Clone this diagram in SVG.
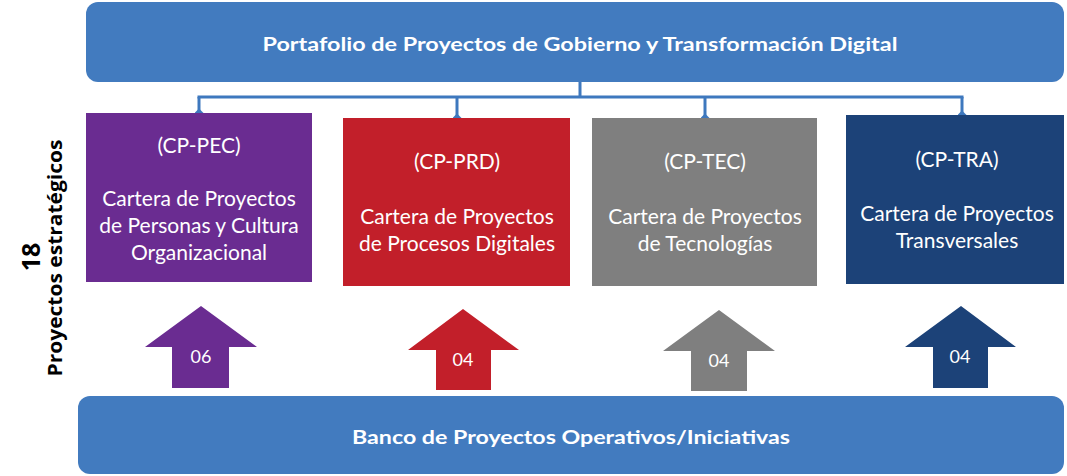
<svg xmlns="http://www.w3.org/2000/svg" width="1067" height="476" viewBox="0 0 1067 476">
  <style>
    .band { fill: #427BBF; }
    .title { font-family: Lato, "Open Sans", sans-serif; font-weight: bold; font-size: 19.5px; fill: #ffffff; text-anchor: middle; }
    .lbl { font-family: Lato, "Open Sans", sans-serif; font-size: 21px; fill: #ffffff; text-anchor: middle; }
    .num { font-family: Lato, "Open Sans", sans-serif; font-size: 18px; fill: #ffffff; text-anchor: middle; }
    .side { font-family: "Open Sans", Lato, sans-serif; font-weight: bold; fill: #000000; text-anchor: middle; }
    .conn { fill: none; stroke: #3E78BE; stroke-width: 3; }
    .purple { fill: #6A2C91; }
    .red { fill: #C21F2A; }
    .gray { fill: #7F7F7F; }
    .navy { fill: #1C4278; }
  </style>
  <defs>
    <marker id="dia" viewBox="0 0 10 10" refX="5" refY="5" markerWidth="3" markerHeight="3" orient="auto">
      <path d="M0,5 L5,0 L10,5 L5,10 Z" fill="#3E78BE"/>
    </marker>
  </defs>

  <g id="portafolio">
    <rect class="band" x="86" y="2" width="978" height="80" rx="12"/>
    <text class="title" x="580" y="51" textLength="635" lengthAdjust="spacingAndGlyphs">Portafolio de Proyectos de Gobierno y Transformación Digital</text>
  </g>

  <g id="connectors">
    <path class="conn" d="M580,82 V97 M197.5,97 H963.5"/>
    <path class="conn" d="M199,97 V113" marker-end="url(#dia)"/>
    <path class="conn" d="M457,97 V118" marker-end="url(#dia)"/>
    <path class="conn" d="M705,97 V118" marker-end="url(#dia)"/>
    <path class="conn" d="M962,97 V115" marker-end="url(#dia)"/>
  </g>

  <g id="cp-pec">
    <rect class="purple" x="86" y="113" width="226" height="169"/>
    <text class="lbl" x="199" y="153">(CP-PEC)</text>
    <text class="lbl" x="199" y="206">Cartera de Proyectos</text>
    <text class="lbl" x="199" y="233">de Personas y Cultura</text>
    <text class="lbl" x="199" y="260">Organizacional</text>
  </g>

  <g id="cp-prd">
    <rect class="red" x="343" y="118" width="227" height="168"/>
    <text class="lbl" x="457" y="169">(CP-PRD)</text>
    <text class="lbl" x="457" y="224">Cartera de Proyectos</text>
    <text class="lbl" x="457" y="251">de Procesos Digitales</text>
  </g>

  <g id="cp-tec">
    <rect class="gray" x="592" y="118" width="225" height="168"/>
    <text class="lbl" x="705" y="169">(CP-TEC)</text>
    <text class="lbl" x="705" y="224">Cartera de Proyectos</text>
    <text class="lbl" x="705" y="251">de Tecnologías</text>
  </g>

  <g id="cp-tra">
    <rect class="navy" x="846" y="115" width="218" height="169"/>
    <text class="lbl" x="957" y="167">(CP-TRA)</text>
    <text class="lbl" x="957" y="221">Cartera de Proyectos</text>
    <text class="lbl" x="957" y="248">Transversales</text>
  </g>

  <g id="arrow-pec">
    <polygon class="purple" points="201,306 257,347 229,347 229,388 172,388 172,347 145,347"/>
    <text class="num" x="201" y="363">06</text>
  </g>
  <g id="arrow-prd">
    <polygon class="red" points="463,309 519,350 491,350 491,390 436,390 436,350 408,350"/>
    <text class="num" x="463" y="366">04</text>
  </g>
  <g id="arrow-tec">
    <polygon class="gray" points="719,310 775,351 747,351 747,391 691,391 691,351 663,351"/>
    <text class="num" x="719" y="367">04</text>
  </g>
  <g id="arrow-tra">
    <polygon class="navy" points="961,306 1016,347 988,347 988,388 933,388 933,347 905,347"/>
    <text class="num" x="960" y="363">04</text>
  </g>

  <g id="banco">
    <rect class="band" x="78" y="396" width="986" height="78" rx="12"/>
    <text class="title" x="571" y="444" textLength="438" lengthAdjust="spacingAndGlyphs">Banco de Proyectos Operativos/Iniciativas</text>
  </g>

  <g id="side-label">
    <text class="side" font-size="25" transform="translate(40,257) rotate(-90)">18</text>
    <text class="side" font-size="19.5" transform="translate(62,258) rotate(-90)" textLength="237" lengthAdjust="spacingAndGlyphs">Proyectos estratégicos</text>
  </g>
</svg>
